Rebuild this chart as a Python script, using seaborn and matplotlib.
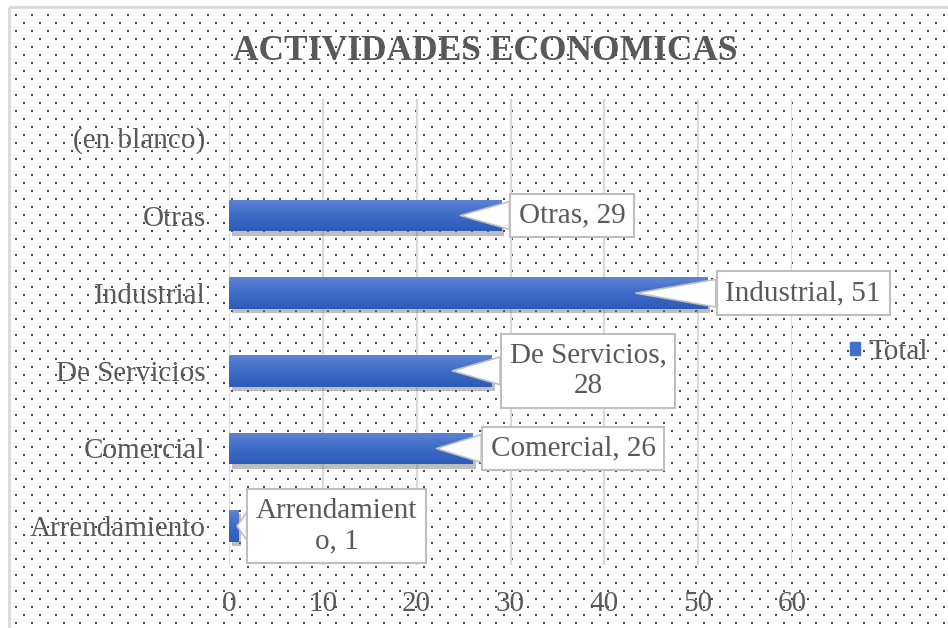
import numpy as np
import pandas as pd
import seaborn as sns
import matplotlib.pyplot as plt
import matplotlib.patheffects as pe
from matplotlib.patches import Patch, Rectangle
from matplotlib.colors import LinearSegmentedColormap

categorias = ["(en blanco)", "Otras", "Industrial", "De Servicios", "Comercial", "Arrendamiento"]
totales = [np.nan, 29, 51, 28, 26, 1]
etiquetas = ["", "Otras, 29", "Industrial, 51", "De Servicios,\n28", "Comercial, 26", "Arrendamient\no, 1"]
xticks = [0, 10, 20, 30, 40, 50, 60]

df = pd.DataFrame({"actividad": categorias, "total": totales})

plt.rcParams['font.family'] = ['Liberation Serif', 'DejaVu Serif']
gris = '#595959'
azul = '#4170c8'

fig = plt.figure(figsize=(9.48, 6.28), dpi=100)

# fondo punteado y borde del grafico
bg = fig.add_axes([0, 0, 1, 1], zorder=-10)
bg.set_xlim(0, 948)
bg.set_ylim(628, 0)
bg.axis('off')
px, py = np.meshgrid(np.arange(16, 960, 16), np.arange(15, 640, 8))
px = px + (np.arange(px.shape[0]) % 2 * 8)[:, None]
bg.scatter(px.ravel(), py.ravel(), s=2.2, marker='s', color='#3c4657', linewidths=0)
bg.add_patch(Rectangle((9, 7), 960, 640, fill=False, ec='#d9d9d9', lw=2))

ax = fig.add_axes([229 / 948, 1 - 565 / 628, (792 - 229) / 948, (565 - 99) / 628])
ax.set_facecolor('none')
sns.barplot(data=df, x="total", y="actividad", order=categorias, orient='h',
            color=azul, width=0.41, errorbar=None, ax=ax, zorder=3)

# degradado y sombra de las barras
cmap = LinearSegmentedColormap.from_list('barra', ['#5f84d4', '#3d6bc6', '#2d5bb9'])
grad = np.linspace(0, 1, 64).reshape(-1, 1)
for bar in list(ax.patches):
    w = bar.get_width()
    if not np.isfinite(w) or w == 0:
        continue
    bar.set_path_effects([pe.SimplePatchShadow(offset=(2, -3), shadow_rgbFace='#707070', alpha=0.45),
                          pe.Normal()])
    x0, y0, h = bar.get_x(), bar.get_y(), bar.get_height()
    im = ax.imshow(grad, cmap=cmap, aspect='auto', origin='lower',
                   extent=(x0, x0 + w, y0, y0 + h), zorder=4)
    im.set_clip_path(bar)

ax.set_xlim(0, 60)
ax.set_ylim(5.5, -0.5)
ax.set_xticks(xticks)
ax.grid(axis='x', color='#d9d9d9', lw=1.6, zorder=0)
ax.set_axisbelow(True)
for s in ax.spines.values():
    s.set_visible(False)
ax.tick_params(axis='both', length=0, labelsize=21, labelcolor=gris)
ax.tick_params(axis='y', pad=17)
ax.tick_params(axis='x', pad=19)
ax.set_xlabel('')
ax.set_ylabel('')

# globos de etiquetas
for i, (v, lab) in enumerate(zip(totales, etiquetas)):
    if not np.isfinite(v):
        continue
    ax.annotate(lab, xy=(v * 0.85, i), xytext=(v + 1.9, i), ha='left', va='center',
                multialignment='center', fontsize=21, color=gris,
                bbox=dict(boxstyle='square,pad=0.3', fc='white', ec='#bfbfbf', lw=1.5),
                arrowprops=dict(arrowstyle='wedge,tail_width=0.95', fc='white', ec='#bfbfbf',
                                lw=1.2, shrinkA=0, shrinkB=0),
                annotation_clip=False, zorder=6)

fig.text(0.512, 0.918, 'ACTIVIDADES ECONOMICAS', ha='center', va='center',
         fontsize=25.5, fontweight='bold', color=gris)

fig.legend(handles=[Patch(color=azul)], labels=['Total'], loc='center left',
           bbox_to_anchor=(824 / 948, 1 - 352 / 628), frameon=False, fontsize=21,
           handlelength=0.33, handleheight=0.33, handletextpad=0.3, labelcolor=gris)

fig.savefig('out.png', dpi=100)
